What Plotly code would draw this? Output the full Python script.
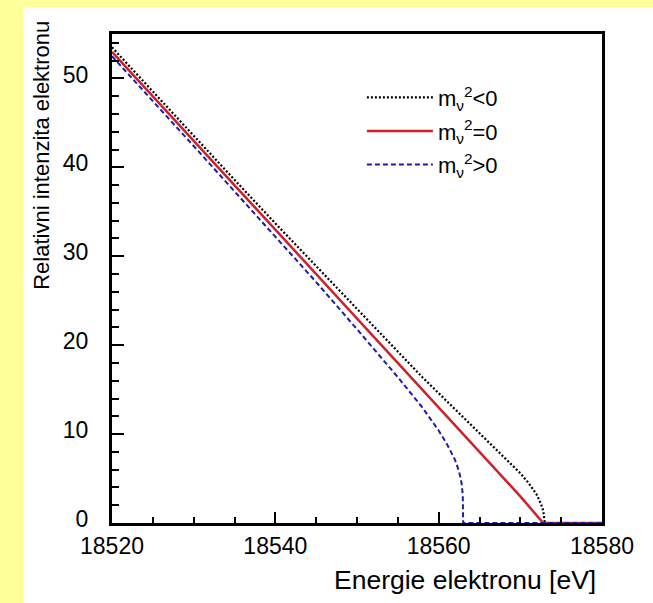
import plotly.graph_objects as go

# ---- data ----
energy_zero = [18520, 18525, 18530, 18535, 18540, 18545, 18550, 18555, 18560, 18565, 18570, 18572.8, 18580]
inten_zero = [53.0, 48.0, 43.0, 38.0, 33.0, 28.0, 23.0, 18.0, 13.0, 8.0, 3.0, 0.0, 0.0]

energy_neg = [18520, 18525, 18530, 18535, 18540, 18545, 18550, 18555, 18558, 18560, 18562, 18564,
              18566, 18568, 18570, 18571, 18572, 18572.5, 18572.8, 18573, 18580]
inten_neg = [53.5, 48.5, 43.6, 38.6, 33.7, 28.9, 24.0, 19.3, 16.4, 14.6, 12.8, 11.0,
             9.2, 7.5, 5.6, 4.5, 3.2, 2.2, 1.4, 0.0, 0.0]

energy_pos = [18520, 18525, 18530, 18535, 18540, 18545, 18550, 18555, 18558, 18560, 18561, 18562,
              18562.5, 18562.8, 18562.95, 18563, 18580]
inten_pos = [52.5, 47.5, 42.4, 37.3, 32.2, 27.1, 21.8, 16.4, 13.0, 10.4, 8.9, 7.1,
             5.8, 4.5, 3.2, 0.0, 0.0]

labels = ["m<sub>ν</sub><sup>2</sup>&lt;0", "m<sub>ν</sub><sup>2</sup>=0", "m<sub>ν</sub><sup>2</sup>&gt;0"]
x_ticks = [18520, 18540, 18560, 18580]
y_ticks = [0, 10, 20, 30, 40, 50]

FONT = "Liberation Sans, Arial, Helvetica, sans-serif"

fig = go.Figure()
fig.add_trace(go.Scatter(x=energy_neg, y=inten_neg, mode="lines", name=labels[0], legendgroup="a",
                         line=dict(color="black", width=2.2, dash="2px,2px")))
fig.add_trace(go.Scatter(x=energy_zero, y=inten_zero, mode="lines", name=labels[1], legendgroup="b",
                         line=dict(color="#cc2228", width=2.5)))
fig.add_trace(go.Scatter(x=energy_pos, y=inten_pos, mode="lines", name=labels[2], legendgroup="c",
                         line=dict(color="#1c1ca8", width=2, dash="5px,3px")))

fig.update_layout(
    width=653, height=603,
    margin=dict(l=112, r=51, t=34, b=80, autoexpand=False),
    paper_bgcolor="#ffff99",
    plot_bgcolor="white",
    font=dict(family=FONT, color="black", size=23),
    showlegend=True,
    legend=dict(x=0.51, y=0.913, xanchor="left", yanchor="top",
                bgcolor="rgba(0,0,0,0)", borderwidth=0,
                font=dict(size=22, family=FONT, color="black"),
                itemwidth=66, tracegroupgap=2),
    shapes=[dict(type="rect", xref="paper", yref="paper",
                 x0=-0.181, x1=1.2, y0=-0.3, y1=1.0552,
                 fillcolor="white", line=dict(width=0), layer="below")],
    annotations=[
        dict(text="Energie elektronu [eV]", xref="paper", yref="paper",
             x=0.991, y=-0.116, xanchor="right", yanchor="middle",
             showarrow=False, font=dict(size=26.5, family=FONT, color="black")),
        dict(text="Relativni intenzita elektronu", xref="paper", yref="paper",
             x=-0.144, y=1.031, xanchor="center", yanchor="top", textangle=-90,
             showarrow=False, font=dict(size=22, family=FONT, color="black")),
    ],
)

fig.update_xaxes(range=[18520, 18580], tickvals=x_ticks, ticktext=[str(v) for v in x_ticks],
                 showgrid=False, zeroline=False,
                 showline=True, mirror=True, linecolor="black", linewidth=3,
                 ticks="inside", ticklen=11, tickwidth=2, tickcolor="black",
                 minor=dict(dtick=5, ticks="inside", ticklen=6, tickwidth=2, tickcolor="black"),
                 tickfont=dict(size=23), ticklabelstandoff=0)
fig.update_yaxes(range=[0, 55], tickvals=y_ticks, ticktext=[str(v) for v in y_ticks],
                 showgrid=False, zeroline=False,
                 showline=True, mirror=True, linecolor="black", linewidth=3,
                 ticks="inside", ticklen=12, tickwidth=2, tickcolor="black",
                 minor=dict(dtick=2, ticks="inside", ticklen=7, tickwidth=2, tickcolor="black"),
                 tickfont=dict(size=23), ticklabelstandoff=16, ticklabelshift=-4)

fig.write_html("out.html", config={"displayModeBar": False},
               post_script="document.body.style.margin='0';")
